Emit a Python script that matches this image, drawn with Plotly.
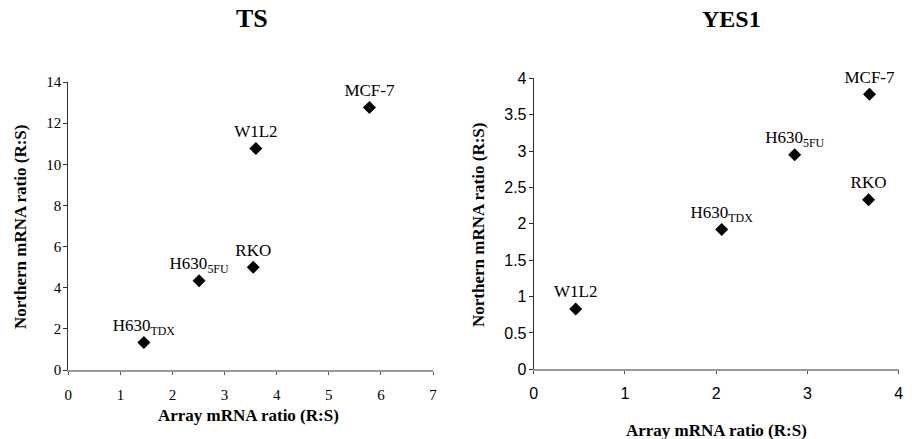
import plotly.graph_objects as go

W, H = 916, 439

ts_labels = ["MCF-7", "W1L2", "RKO", "H630<sub>5FU</sub>", "H630<sub>TDX</sub>"]
ts_array = [5.78, 3.60, 3.55, 2.51, 1.45]
ts_northern = [12.76, 10.77, 4.99, 4.34, 1.34]

yes_labels = ["MCF-7", "H630<sub>5FU</sub>", "RKO", "H630<sub>TDX</sub>", "W1L2"]
yes_array = [3.68, 2.86, 3.67, 2.06, 0.46]
yes_northern = [3.78, 2.95, 2.33, 1.92, 0.83]

ts_xticks = [0, 1, 2, 3, 4, 5, 6, 7]
ts_yticks = [0, 2, 4, 6, 8, 10, 12, 14]
yes_xticks = [0, 1, 2, 3, 4]
yes_yticks = [0, 0.5, 1, 1.5, 2, 2.5, 3, 3.5, 4]

SERIF = "Liberation Serif, Times New Roman, serif"
SANS = "Liberation Sans, Arial, sans-serif"

def px_x(p):
    return p / W

def px_y(p):
    return 1 - p / H

fig = go.Figure()

marker = dict(symbol="diamond", size=10, color="black")
textfont = dict(family=SERIF, size=17, color="black")

fig.add_trace(go.Scatter(
    x=ts_array, y=ts_northern, mode="markers+text", text=ts_labels,
    textposition="top center", marker=marker, textfont=textfont, cliponaxis=False,
    xaxis="x", yaxis="y", showlegend=False))

fig.add_trace(go.Scatter(
    x=yes_array, y=yes_northern, mode="markers+text", text=yes_labels,
    textposition="top center", marker=marker, textfont=textfont, cliponaxis=False,
    xaxis="x2", yaxis="y2", showlegend=False))

def xaxis_cfg(domain, rng, ticks, font, anchor, standoff):
    return dict(domain=domain, range=rng, tickvals=ticks, ticktext=[str(t) for t in ticks],
                showgrid=False, zeroline=False, showline=True, linecolor="#9a9a9a", linewidth=2,
                ticks="outside", ticklen=3, tickcolor="#555", tickfont=font, anchor=anchor,
                ticklabelstandoff=standoff, automargin=False, fixedrange=True)

def yaxis_cfg(domain, rng, ticks, font, anchor, standoff):
    return dict(domain=domain, range=rng, tickvals=ticks, ticktext=[str(t) for t in ticks],
                showgrid=False, zeroline=False, showline=True, linecolor="#333", linewidth=1,
                ticks="outside", ticklen=4, tickcolor="#333", tickfont=font, anchor=anchor,
                ticklabelstandoff=standoff, automargin=False, fixedrange=True)

tick_serif = dict(family=SERIF, size=15, color="black")
tick_sans = dict(family=SANS, size=16, color="black")

fig.update_layout(
    template="none",
    width=W, height=H,
    margin=dict(l=0, r=0, t=0, b=0, pad=0, autoexpand=False),
    paper_bgcolor="white", plot_bgcolor="white",
    xaxis=xaxis_cfg([px_x(68.3), px_x(433)], [0, 7], ts_xticks, tick_serif, "y", 7),
    yaxis=yaxis_cfg([px_y(370), px_y(82)], [0, 14], ts_yticks, tick_serif, "x", -1),
    xaxis2=xaxis_cfg([px_x(533.7), px_x(898.7)], [0, 4], yes_xticks, tick_sans, "y2", 5),
    yaxis2=yaxis_cfg([px_y(369.3), px_y(78.3)], [0, 4], yes_yticks, tick_sans, "x2", -1),
)

axt_font = dict(family=SERIF, size=17, color="black")

annotations = [
    dict(text="<b>TS</b>", x=px_x(252), y=px_y(19), font=dict(family=SERIF, size=26, color="black")),
    dict(text="<b>YES1</b>", x=px_x(731), y=px_y(19), font=dict(family=SERIF, size=24, color="black")),
    dict(text="<b>Array mRNA ratio (R:S)</b>", x=px_x(248), y=px_y(415), font=axt_font),
    dict(text="<b>Array mRNA ratio (R:S)</b>", x=px_x(716), y=px_y(430), font=axt_font),
    dict(text="<b>Northern mRNA ratio (R:S)</b>", x=px_x(20), y=px_y(227), font=axt_font, textangle=-90),
    dict(text="<b>Northern mRNA ratio (R:S)</b>", x=px_x(478), y=px_y(225), font=axt_font, textangle=-90),
]
for a in annotations:
    a.update(xref="paper", yref="paper", showarrow=False, xanchor="center", yanchor="middle")
fig.update_layout(annotations=annotations)

fig.write_html("out.html", config={"displayModeBar": False},
               post_script="document.body.style.margin='0';document.body.style.overflow='hidden';")
